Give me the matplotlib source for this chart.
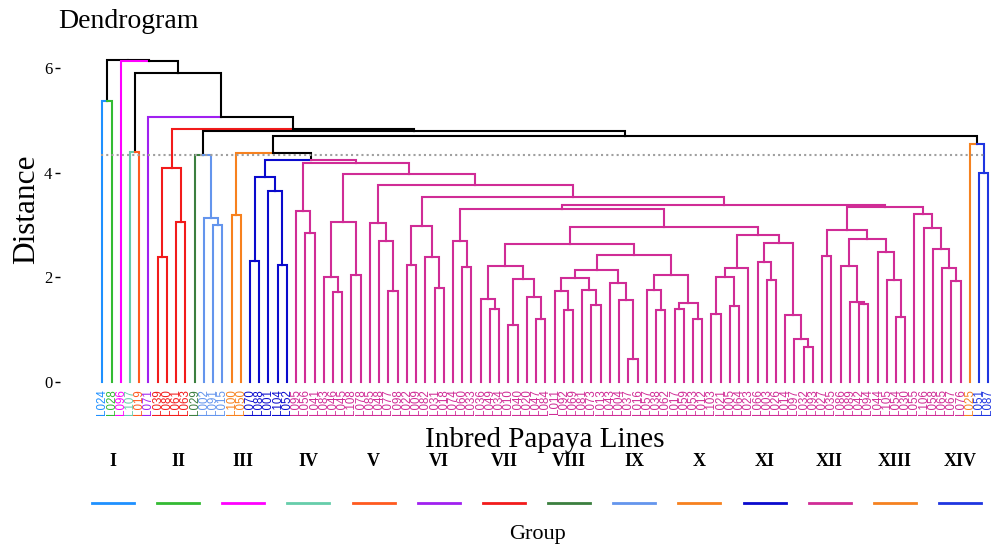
import numpy as np
import matplotlib
matplotlib.use("Agg")
import matplotlib.pyplot as plt
from matplotlib.lines import Line2D

# ---------------- data ----------------
leaf_labels = [
    "L024", "L028", "L096", "L107", "L019", "L071", "L039", "L080", "L061", "L063",
    "L029", "L002", "L091", "L015", "L100", "L050", "L070", "L088", "L001", "L104",
    "L052", "L095", "L056", "L041", "L083", "L046", "L045", "L108", "L078", "L085",
    "L048", "L077", "L098", "L022", "L009",
    "L082", "L031", "L018", "L074", "L060", "L033", "L036", "L049", "L034", "L010",
    "L040", "L020", "L047", "L084", "L011", "L092", "L069", "L081", "L073", "L013",
    "L043", "L004", "L037", "L016", "L057", "L038", "L062", "L017", "L059", "L053",
    "L012", "L103", "L021", "L005", "L064", "L023", "L066", "L003", "L026", "L014",
    "L097", "L032", "L093", "L027", "L035", "L086", "L089", "L042", "L094", "L044",
    "L105", "L054", "L030", "L055", "L106", "L058", "L065", "L067", "L076",
    "L025", "L051", "L087",
]

group_names = ["I", "II", "III", "IV", "V", "VI", "VII", "VIII", "IX", "X",
               "XI", "XII", "XIII", "XIV"]
group_sizes = [1, 1, 1, 1, 1, 1, 4, 1, 3, 2, 5, 73, 1, 2]
group_colors = ["#1E90FF", "#33BB33", "#FF00FF", "#66CDAA", "#FF5A1F", "#A020F0",
                "#F21B1B", "#3B7F3F", "#6495ED", "#F7811E", "#0A0ACD", "#D02C96",
                "#F58220", "#1F35E0"]

# height at which each pair of neighbouring leaves is joined (cophenetic distance)
merge_heights = [
    5.37, 6.16, 6.13, 4.40, 5.90, 5.07, 2.39, 4.09, 3.06, 4.83,
    4.33, 3.13, 3.00, 4.79, 3.19, 4.38, 2.32, 3.91, 3.65, 2.24,
    4.24, 3.27, 2.84, 4.19, 2.00, 1.72, 3.06, 2.04, 3.98, 3.03,
    2.69, 1.74, 3.76, 2.24, 2.98, 2.38, 1.79, 3.53, 2.70, 2.20,
    3.30, 1.58, 1.39, 2.22, 1.09, 1.97, 1.63, 1.20, 2.64, 1.74,
    1.38, 1.98, 1.75, 1.47, 2.13, 1.90, 1.56, 0.43, 2.43, 1.76,
    1.38, 2.05, 1.40, 1.50, 1.20, 2.96, 1.30, 2.00, 1.45, 2.17,
    2.80, 2.30, 1.95, 2.65, 1.28, 0.82, 0.67, 3.38, 2.40, 2.90,
    2.22, 1.52, 1.49, 2.73, 2.48, 1.95, 1.25, 3.34, 3.21, 2.95,
    2.55, 2.18, 1.93, 4.70, 4.55, 4.00,
]

cut_height = 4.33
y_ticks = [0, 2, 4, 6]

assert len(leaf_labels) == sum(group_sizes) == len(merge_heights) + 1

# ---------------- tree ----------------
leaf_group = np.repeat(np.arange(len(group_sizes)), group_sizes)


def build(lo, hi):
    if lo == hi:
        return {"lo": lo, "hi": hi, "x": float(lo), "h": 0.0, "kids": None}
    k = lo + int(np.argmax(merge_heights[lo:hi]))
    left = build(lo, k)
    right = build(k + 1, hi)
    return {"lo": lo, "hi": hi, "x": (left["x"] + right["x"]) / 2.0,
            "h": merge_heights[k], "kids": (left, right)}


def node_color(node):
    gs = set(leaf_group[node["lo"]:node["hi"] + 1])
    if len(gs) == 1:
        return group_colors[gs.pop()]
    return "black"


root = build(0, len(leaf_labels) - 1)

# ---------------- figure ----------------
W, H = 992, 547
fig = plt.figure(figsize=(W / 100, H / 100), dpi=100)
serif = "Liberation Serif"

ax_left, ax_right, ax_top, ax_bot = 60, 995, 40, 386
ax = fig.add_axes([ax_left / W, 1 - ax_bot / H, (ax_right - ax_left) / W,
                   (ax_bot - ax_top) / H])

lw = 1.5


def draw(node):
    if node["kids"] is None:
        return
    for child in node["kids"]:
        ax.plot([node["x"], child["x"], child["x"]],
                [node["h"], node["h"], child["h"]],
                color=node_color(child), lw=lw, solid_joinstyle="miter",
                solid_capstyle="projecting", zorder=2)
        draw(child)


draw(root)

n = len(leaf_labels)
ax.plot([-0.1, n - 1.3], [cut_height, cut_height], color="#A0A0A0", lw=1.5,
        ls=(0, (1, 1.5)), zorder=3)

px_per_leaf = (988.3 - 102.3) / (n - 1)
ax.set_xlim(-(102.3 - ax_left) / px_per_leaf, (n - 1) + (ax_right - 988.3) / px_per_leaf)
px_per_unit = 52.35
ax.set_ylim(-(ax_bot - 382) / px_per_unit, (382 - ax_top) / px_per_unit)

for s in ax.spines.values():
    s.set_visible(False)

ax.set_xticks(range(n))
ax.set_xticklabels(leaf_labels, rotation=90, fontsize=8.3, family="Liberation Sans")
for lab, g in zip(ax.get_xticklabels(), leaf_group):
    lab.set_color(group_colors[g])
ax.tick_params(axis="x", length=0, pad=2)

ax.set_yticks(y_ticks)
ax.set_yticklabels([str(v) for v in y_ticks], family=serif, fontsize=12)
ax.tick_params(axis="y", length=3.5, width=1, pad=2)

fig.text(58 / W, 1 - 21 / H, "Dendrogram", ha="left", va="center",
         family=serif, fontsize=20)
fig.text(27 / W, 1 - 209 / H, "Distance", ha="center", va="center",
         rotation=90, family=serif, fontsize=22.5)
fig.text(545 / W, 1 - 440 / H, "Inbred Papaya Lines", ha="center", va="center",
         family=serif, fontsize=21)

# legend
leg_x0, leg_dx = 113, 65.15
for i, (name, col) in enumerate(zip(group_names, group_colors)):
    cx = leg_x0 + i * leg_dx
    fig.text(cx / W, 1 - 462 / H, name, ha="center", va="center",
             family=serif, fontsize=13, fontweight="bold")
    fig.add_artist(Line2D([(cx - 21) / W, (cx + 21) / W], [1 - 503 / H, 1 - 503 / H],
                          color=col, lw=2, transform=fig.transFigure))
fig.text(537 / W, 1 - 535 / H, "Group", ha="center", va="center",
         family=serif, fontsize=16)

fig.savefig("out.png", dpi=100)
